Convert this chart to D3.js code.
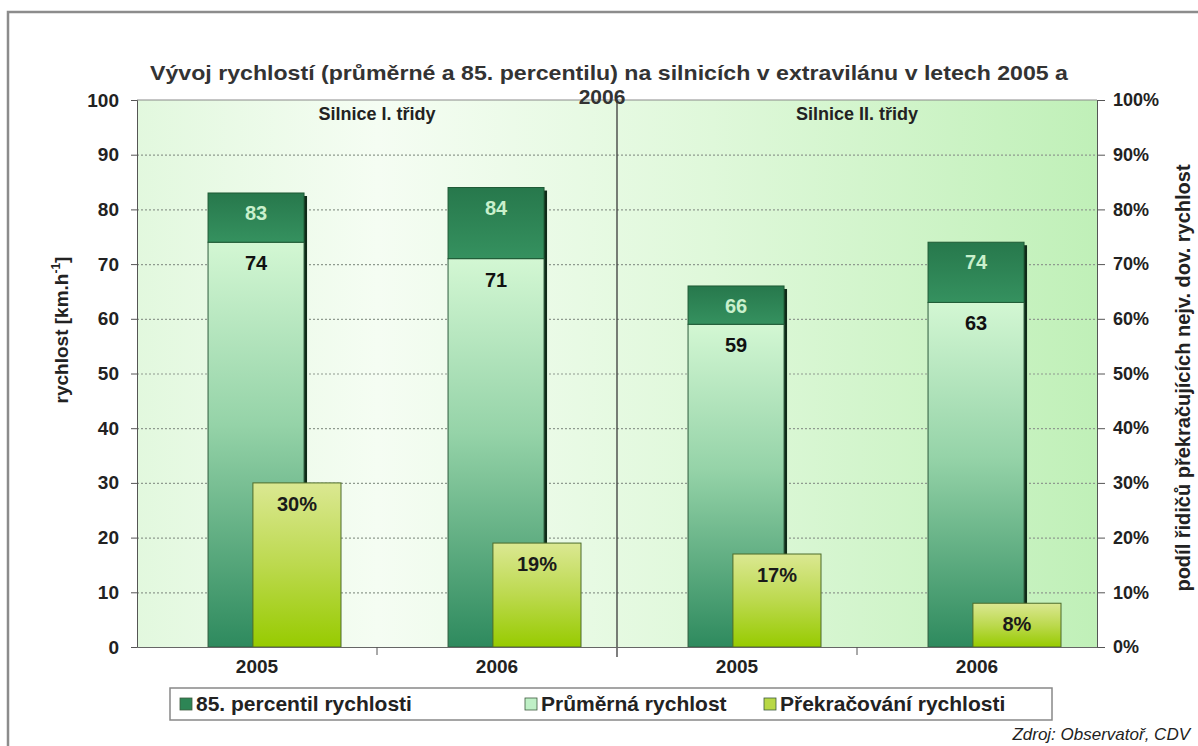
<!DOCTYPE html>
<html>
<head>
<meta charset="utf-8">
<script src="https://cdn.jsdelivr.net/npm/d3@7/dist/d3.min.js"></script>
<style>
    body { margin: 0; background: #fff; }
    text { font-family: "Liberation Sans", Arial, sans-serif; }
</style>
</head>
<body>
<div id="chart"></div>
<script>
// Chart data
const groupNames = ["Silnice I. třidy", "Silnice II. třidy"];
const years = ["2005", "2006", "2005", "2006"];
const percentil85 = [83, 84, 66, 74];
const prumerna = [74, 71, 59, 63];
const prekracovani = [0.30, 0.19, 0.17, 0.08];
const speedTicks = [0, 10, 20, 30, 40, 50, 60, 70, 80, 90, 100];
const shareTicks = [0, 0.1, 0.2, 0.3, 0.4, 0.5, 0.6, 0.7, 0.8, 0.9, 1];
const legendLabels = ["85. percentil rychlosti", "Průměrná rychlost", "Překračování rychlosti"];
const titleLines = ["Vývoj rychlostí (průměrné a 85. percentilu) na silnicích v extravilánu v letech 2005 a", "2006"];

const W = 1198, H = 746;
const plot = { left: 137, right: 1097, top: 100, bottom: 647 };
const fontFamily = '"Liberation Sans", Arial, sans-serif';

const svg = d3.select("#chart").append("svg")
    .attr("width", W)
    .attr("height", H);

// Gradients
const defs = svg.append("defs");
function linGrad(id, stops, horizontal) {
    const g = defs.append("linearGradient").attr("id", id)
        .attr("x1", 0).attr("y1", 0)
        .attr("x2", horizontal ? 1 : 0).attr("y2", horizontal ? 0 : 1);
    stops.forEach(s => g.append("stop").attr("offset", s[0]).attr("stop-color", s[1]));
}
linGrad("bgGrad", [[0, "#e2f8de"], [0.25, "#f5fdf3"], [0.6, "#dff8da"], [1, "#c0f0b8"]], true);
linGrad("darkGrad", [[0, "#27784c"], [1, "#35915f"]]);
linGrad("meanGrad", [[0, "#d3f7d3"], [0.45, "#95d3a8"], [1, "#2e8a5e"]]);
linGrad("overGrad", [[0, "#dbe892"], [0.5, "#bcd94e"], [1, "#97cb00"]]);

// Outer frame
svg.append("rect")
    .attr("x", 8).attr("y", 12)
    .attr("width", 1300).attr("height", 900)
    .attr("fill", "#fff")
    .attr("stroke", "#8c8c8c")
    .attr("stroke-width", 2.5);

// Scales
const x = d3.scaleBand().domain(d3.range(years.length)).range([plot.left, plot.right]);
const groupX = d3.scaleBand().domain(groupNames).range([plot.left, plot.right]);
const y = d3.scaleLinear().domain([0, 100]).range([plot.bottom, plot.top]);
const yR = d3.scaleLinear().domain([0, 1]).range([plot.bottom, plot.top]);
const bw = x.bandwidth();

// Plot background
svg.append("rect")
    .attr("x", plot.left).attr("y", plot.top)
    .attr("width", plot.right - plot.left)
    .attr("height", plot.bottom - plot.top)
    .attr("fill", "url(#bgGrad)");

// Grid lines
svg.append("g")
    .attr("class", "grid")
    .attr("transform", `translate(${plot.left},0)`)
    .call(d3.axisLeft(y)
        .tickValues(speedTicks.slice(1, -1))
        .tickSize(-(plot.right - plot.left))
        .tickFormat(""))
    .call(g => g.select(".domain").remove())
    .call(g => g.selectAll("line")
        .attr("stroke", "#8f9a8f")
        .attr("stroke-width", 1.2)
        .attr("stroke-dasharray", "2,2"));

// Top border of plot
svg.append("line")
    .attr("x1", plot.left).attr("x2", plot.right)
    .attr("y1", plot.top).attr("y2", plot.top)
    .attr("stroke", "#8a8a8a");

// Group divider
svg.append("line")
    .attr("x1", groupX(groupNames[1])).attr("x2", groupX(groupNames[1]))
    .attr("y1", plot.top).attr("y2", plot.bottom + 10)
    .attr("stroke", "#3a3a3a")
    .attr("stroke-width", 1.3);

// Group labels
svg.selectAll(".group-label")
    .data(groupNames)
    .join("text")
    .attr("class", "group-label")
    .attr("x", d => groupX(d) + groupX.bandwidth() / 2)
    .attr("y", 120)
    .attr("text-anchor", "middle")
    .attr("font-size", "18px")
    .attr("font-weight", "bold")
    .attr("fill", "#222")
    .text(d => d);

// Primary bars (stacked speed)
const primary = svg.append("g").attr("class", "primary");
years.forEach((yr, i) => {
    const bx = x(i) + 0.296 * bw;
    const w = 0.4 * bw;
    primary.append("rect")
        .attr("x", bx + 3).attr("y", y(percentil85[i]) + 3)
        .attr("width", w).attr("height", y(0) - y(percentil85[i]) - 3)
        .attr("fill", "#0f2a18");
    primary.append("rect")
        .attr("x", bx).attr("y", y(prumerna[i]))
        .attr("width", w).attr("height", y(0) - y(prumerna[i]))
        .attr("fill", "url(#meanGrad)")
        .attr("stroke", "#2f5c3e").attr("stroke-width", 1);
    primary.append("rect")
        .attr("x", bx).attr("y", y(percentil85[i]))
        .attr("width", w).attr("height", y(prumerna[i]) - y(percentil85[i]))
        .attr("fill", "url(#darkGrad)")
        .attr("stroke", "#1f5a35").attr("stroke-width", 1);
    primary.append("text")
        .attr("x", bx + w / 2).attr("y", y(percentil85[i]) + 20)
        .attr("dy", "0.35em")
        .attr("text-anchor", "middle")
        .attr("font-size", "20px").attr("font-weight", "bold")
        .attr("fill", "#c9f0cc")
        .text(percentil85[i]);
    primary.append("text")
        .attr("x", bx + w / 2).attr("y", y(prumerna[i]) + 21)
        .attr("dy", "0.35em")
        .attr("text-anchor", "middle")
        .attr("font-size", "20px").attr("font-weight", "bold")
        .attr("fill", "#111")
        .text(prumerna[i]);
});

// Secondary bars (share of speeding drivers)
const secondary = svg.append("g").attr("class", "secondary");
years.forEach((yr, i) => {
    const bx = x(i) + 0.483 * bw;
    const w = 0.367 * bw;
    secondary.append("rect")
        .attr("x", bx).attr("y", yR(prekracovani[i]))
        .attr("width", w).attr("height", yR(0) - yR(prekracovani[i]))
        .attr("fill", "url(#overGrad)")
        .attr("stroke", "#4d6b2a").attr("stroke-width", 1);
    secondary.append("text")
        .attr("x", bx + w / 2).attr("y", yR(prekracovani[i]) + 21)
        .attr("dy", "0.35em")
        .attr("text-anchor", "middle")
        .attr("font-size", "20px").attr("font-weight", "bold")
        .attr("fill", "#1a1a1a")
        .text(d3.format(".0%")(prekracovani[i]));
});

// Left axis
svg.append("g")
    .attr("transform", `translate(${plot.left},0)`)
    .call(d3.axisLeft(y).tickValues(speedTicks).tickSize(6).tickPadding(12))
    .call(g => g.selectAll("text")
        .attr("font-size", "19px").attr("font-weight", "bold")
        .attr("fill", "#222")
        .style("font-family", fontFamily))
    .call(g => g.selectAll("line, path").attr("stroke", "#555"));

// Right axis
svg.append("g")
    .attr("transform", `translate(${plot.right},0)`)
    .call(d3.axisRight(yR).tickValues(shareTicks).tickFormat(d3.format(".0%")).tickSize(8).tickPadding(8))
    .call(g => g.selectAll("text")
        .attr("font-size", "18px").attr("font-weight", "bold")
        .attr("fill", "#222")
        .style("font-family", fontFamily))
    .call(g => g.selectAll("line, path").attr("stroke", "#555"));

// Bottom axis
svg.append("g")
    .attr("transform", `translate(0,${plot.bottom})`)
    .call(d3.axisBottom(x).tickFormat(i => years[i]).tickSize(0).tickPadding(13))
    .call(g => g.selectAll("text")
        .attr("font-size", "19px").attr("font-weight", "bold")
        .attr("fill", "#222")
        .style("font-family", fontFamily))
    .call(g => g.select(".domain").attr("stroke", "#666"));

// Category boundary ticks
svg.selectAll(".cat-tick")
    .data([1, 3])
    .join("line")
    .attr("class", "cat-tick")
    .attr("x1", d => x(d)).attr("x2", d => x(d))
    .attr("y1", plot.bottom).attr("y2", plot.bottom + 8)
    .attr("stroke", "#555");

// Axis titles
const leftTitle = svg.append("text")
    .attr("transform", "translate(68,330) rotate(-90)")
    .attr("text-anchor", "middle")
    .attr("font-size", "19px")
    .attr("font-weight", "bold")
    .attr("fill", "#222");
leftTitle.append("tspan").text("rychlost [km.h");
leftTitle.append("tspan").attr("font-size", "12px").attr("dy", "-8").text("-1");
leftTitle.append("tspan").attr("dy", "8").text("]");

svg.append("text")
    .attr("transform", "translate(1190,378) rotate(-90)")
    .attr("text-anchor", "middle")
    .attr("font-size", "20px")
    .attr("font-weight", "bold")
    .attr("fill", "#222")
    .text("podíl řidičů překračujících nejv. dov. rychlost");

// Title (two lines, stretched to the width of the original)
svg.append("text")
    .attr("x", 150).attr("y", 80)
    .attr("textLength", 918)
    .attr("lengthAdjust", "spacingAndGlyphs")
    .attr("font-size", "21px")
    .attr("font-weight", "bold")
    .attr("fill", "#333")
    .text(titleLines[0]);
svg.append("text")
    .attr("x", 602).attr("y", 104)
    .attr("text-anchor", "middle")
    .attr("font-size", "21px")
    .attr("font-weight", "bold")
    .attr("fill", "#333")
    .text(titleLines[1]);

// Legend
const legend = svg.append("g").attr("class", "legend");
legend.append("rect")
    .attr("x", 170).attr("y", 688)
    .attr("width", 882).attr("height", 32)
    .attr("fill", "#fff")
    .attr("stroke", "#888")
    .attr("stroke-width", 1.5);
const legendX = [180, 525, 764];
const legendColors = ["#2d8555", "#bff0c6", "#b8d845"];
legendLabels.forEach((label, i) => {
    legend.append("rect")
        .attr("x", legendX[i]).attr("y", 698)
        .attr("width", 12).attr("height", 12)
        .attr("fill", legendColors[i])
        .attr("stroke", "#3c5a3c").attr("stroke-width", 0.8);
    legend.append("text")
        .attr("x", legendX[i] + 16).attr("y", 711)
        .attr("font-size", "21px")
        .attr("font-weight", "bold")
        .attr("fill", "#222")
        .text(label);
});

// Source note
svg.append("text")
    .attr("x", 1190).attr("y", 740)
    .attr("text-anchor", "end")
    .attr("font-size", "17px")
    .attr("font-style", "italic")
    .attr("fill", "#222")
    .text("Zdroj: Observatoř, CDV");
</script>
</body>
</html>
